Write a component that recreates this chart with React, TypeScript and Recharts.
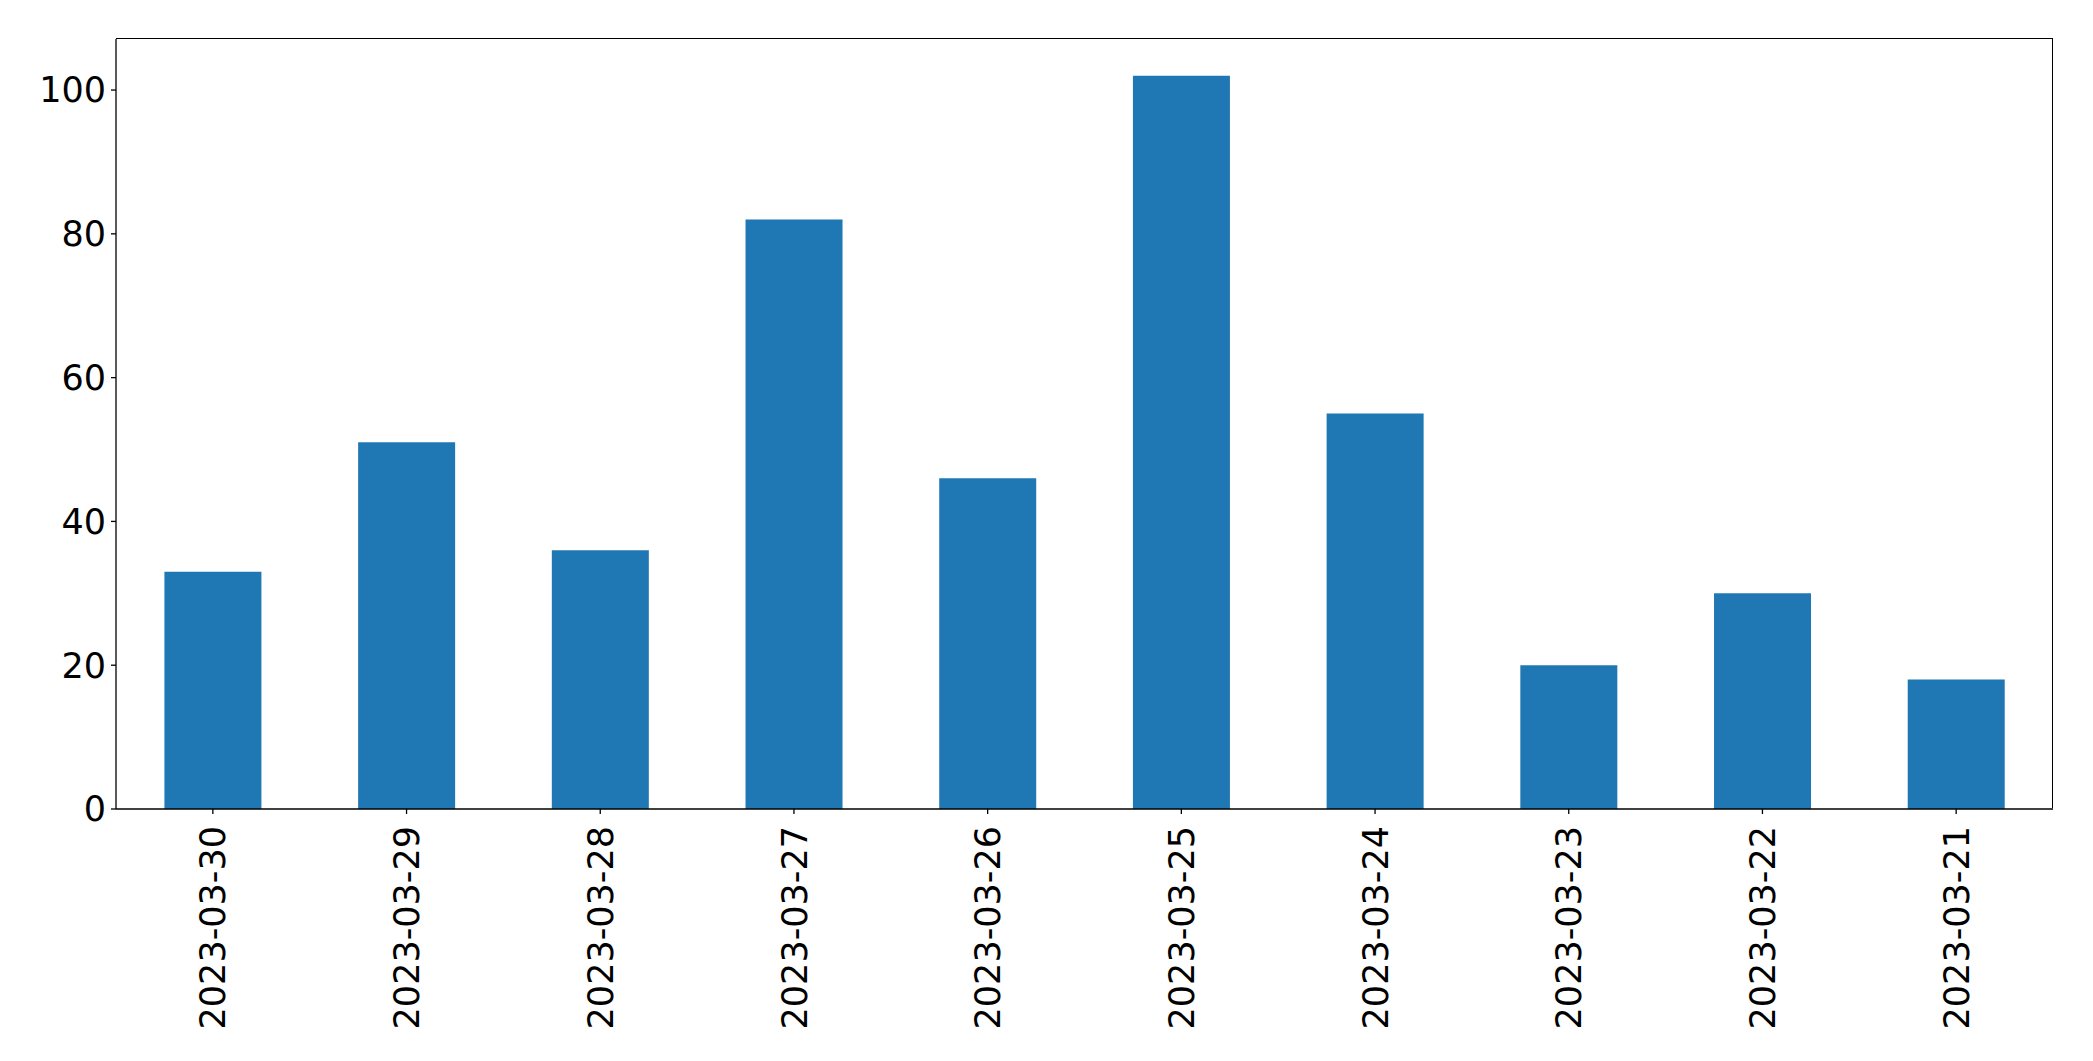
import React from 'react';
import { BarChart, Bar, XAxis, YAxis } from 'recharts';

const dates = [
  '2023-03-30',
  '2023-03-29',
  '2023-03-28',
  '2023-03-27',
  '2023-03-26',
  '2023-03-25',
  '2023-03-24',
  '2023-03-23',
  '2023-03-22',
  '2023-03-21',
];
const counts = [33, 51, 36, 82, 46, 102, 55, 20, 30, 18];
const yTicks = [0, 20, 40, 60, 80, 100];

const data = dates.map((d, i) => ({ date: d, count: counts[i] }));

const FONT = '"DejaVu Sans", sans-serif';

// plot box, matches the margins below
const PLOT = { left: 116, top: 39, right: 40, bottom: 252 };

const DateTick = (props: any) => {
  const { x, y, payload } = props;
  const ty = y + 10;
  return (
    <text
      x={x}
      y={ty}
      transform={`rotate(-90, ${x}, ${ty})`}
      textAnchor="end"
      dy="0.36em"
      fill="#000"
      fontSize={35}
      fontFamily={FONT}
    >
      {payload.value}
    </text>
  );
};

export default function App() {
  const W = 2093;
  const H = 1061;
  return (
    <div style={{ position: 'absolute', left: 0, top: 0, width: W, height: H, background: '#fff' }}>
      <BarChart
        width={W}
        height={H}
        data={data}
        margin={{ top: PLOT.top, right: PLOT.right, bottom: 0, left: 0 }}
        barCategoryGap="25%"
      >
        <XAxis
          dataKey="date"
          height={PLOT.bottom}
          interval={0}
          tick={<DateTick />}
          tickSize={5}
          tickLine={{ stroke: '#000', strokeWidth: 1.3 }}
          axisLine={{ stroke: '#000', strokeWidth: 1.3 }}
        />
        <YAxis
          width={PLOT.left}
          domain={[0, 107.1]}
          ticks={yTicks}
          allowDataOverflow
          tickSize={5}
          tickMargin={5}
          tick={{ fill: '#000', fontSize: 35, fontFamily: FONT }}
          tickLine={{ stroke: '#000', strokeWidth: 1.3 }}
          axisLine={{ stroke: '#000', strokeWidth: 1.3 }}
        />
        <Bar dataKey="count" fill="#1f77b4" isAnimationActive={false} />
      </BarChart>
      {/* top and right spines */}
      <div
        style={{
          position: 'absolute',
          left: PLOT.left,
          top: PLOT.top - 0.65,
          width: W - PLOT.left - PLOT.right,
          height: H - PLOT.top - PLOT.bottom,
          borderTop: '1.3px solid #000',
          borderRight: '1.3px solid #000',
          boxSizing: 'border-box',
          pointerEvents: 'none',
        }}
      />
    </div>
  );
}
